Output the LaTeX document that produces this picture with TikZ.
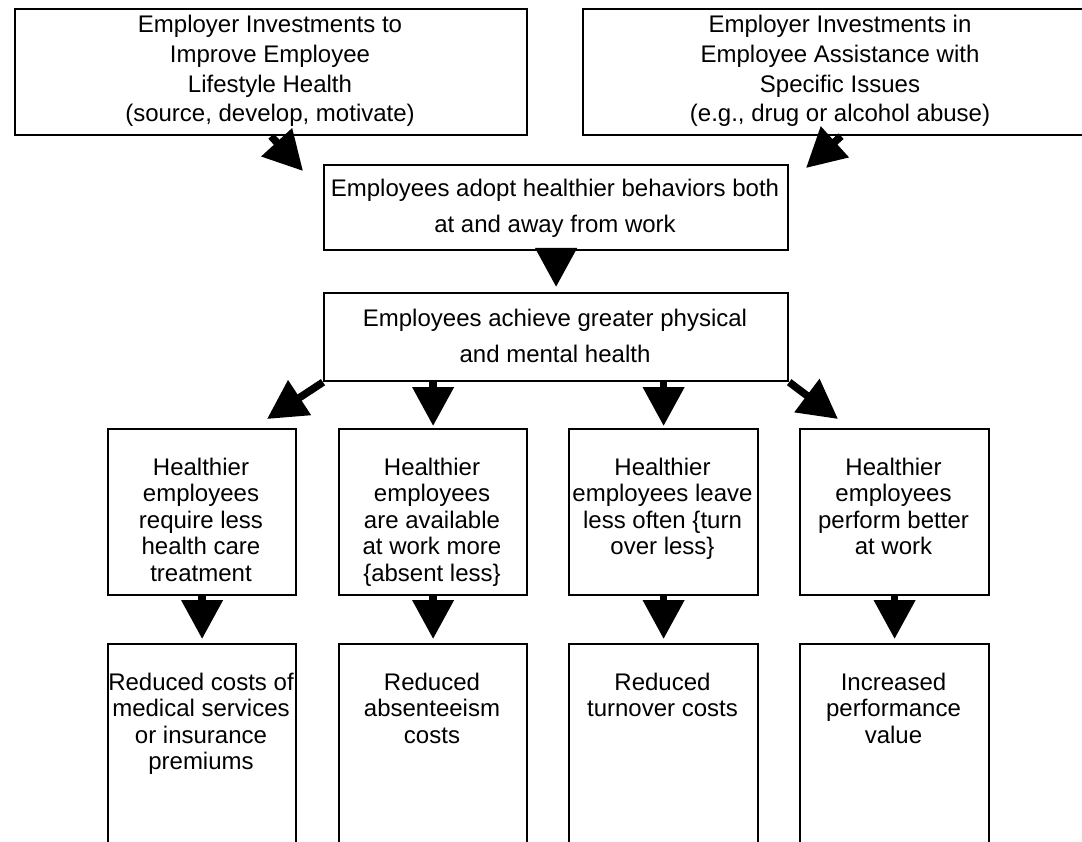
\documentclass[tikz,border=0pt]{standalone}
\usepackage{fontspec}
\setmainfont{Liberation Sans}
\usetikzlibrary{arrows.meta}
\tikzset{
  box/.style={draw, line width=2.2pt, inner sep=0pt, anchor=north west},
  txt/.style={anchor=north, inner sep=0pt, align=center},
  toptxt/.style={txt, font=\fontsize{24}{29.8}\selectfont},
  midtxt/.style={txt, font=\fontsize{24}{36}\selectfont},
  lowtxt/.style={txt, font=\fontsize{24}{26.4}\selectfont},
  fat/.style={line width=7.5pt, -{Triangle[length=39pt 0 0,width=40pt 0 0]}},
}
\begin{document}
\begin{tikzpicture}[x=1pt,y=-1pt]
\useasboundingbox (0,0) rectangle (1082,842);
\clip (0,0) rectangle (1082,842);
% boxes
\node[box, minimum width=512pt, minimum height=126pt] (tl) at (14,8) {};
\node[box, minimum width=516pt, minimum height=126pt] (tr) at (582,8) {};
\node[box, minimum width=464pt, minimum height=85pt] (m1) at (323,164) {};
\node[box, minimum width=464pt, minimum height=88pt] (m2) at (323,292) {};
\node[box, minimum width=188pt, minimum height=166pt] (r3a) at (107,428) {};
\node[box, minimum width=188pt, minimum height=166pt] (r3b) at (338,428) {};
\node[box, minimum width=189pt, minimum height=166pt] (r3c) at (568,428) {};
\node[box, minimum width=189pt, minimum height=166pt] (r3d) at (799,428) {};
\node[box, minimum width=188pt, minimum height=220pt] (r4a) at (107,643) {};
\node[box, minimum width=188pt, minimum height=220pt] (r4b) at (338,643) {};
\node[box, minimum width=189pt, minimum height=220pt] (r4c) at (568,643) {};
\node[box, minimum width=189pt, minimum height=220pt] (r4d) at (799,643) {};
% texts
\node[toptxt] (tlt) at (270,15) {Employer Investments to\\Improve Employee\\Lifestyle Health\\(source, develop, motivate)};
\node[toptxt] (trt) at (840,15) {Employer Investments in\\Employee Assistance with\\Specific Issues\\(e.g., drug or alcohol abuse)};
\node[midtxt] (m1t) at (555,179) {Employees adopt healthier behaviors both\\at and away from work};
\node[midtxt] (m2t) at (555,309) {Employees achieve greater physical\\and mental health};
\node[lowtxt] (r3at) at (201,458) {Healthier\\employees\\require less\\health care\\treatment};
\node[lowtxt] (r3bt) at (432,458) {Healthier\\employees\\are available\\at work more\\\{absent less\}};
\node[lowtxt] (r3ct) at (662.5,458) {Healthier\\employees leave\\less often \{turn\\over less\}};
\node[lowtxt] (r3dt) at (893.5,458) {Healthier\\employees\\perform better\\at work};
\node[lowtxt] (r4at) at (201,673) {Reduced costs of\\medical services\\or insurance\\premiums};
\node[lowtxt] (r4bt) at (432,673) {Reduced\\absenteeism\\costs};
\node[lowtxt] (r4ct) at (662.5,673) {Reduced\\turnover costs};
\node[lowtxt] (r4dt) at (893.5,673) {Increased\\performance\\value};
% arrows
\coordinate (tltip) at (303,171);
\coordinate (trtip) at (806,168);
\coordinate (bltip) at (267,419);
\coordinate (brtip) at (838,419);
\draw[fat] (tl.south) -- (tltip);
\draw[fat] (tr.south) -- (trtip);
\draw[fat, shorten >=5pt] (m1.south) -- (m2.north);
\draw[fat] (m2.south west) -- (bltip);
\draw[fat] (m2.south east) -- (brtip);
\draw[fat, shorten >=2pt] (m2.south -| r3b.north) -- (r3b.north);
\draw[fat, shorten >=2pt] (m2.south -| r3c.north) -- (r3c.north);
\draw[fat, shorten >=4pt] (r3a.south) -- (r4a.north);
\draw[fat, shorten >=4pt] (r3b.south) -- (r4b.north);
\draw[fat, shorten >=4pt] (r3c.south) -- (r4c.north);
\draw[fat, shorten >=4pt] (r3d.south) -- (r4d.north);
\end{tikzpicture}
\end{document}
